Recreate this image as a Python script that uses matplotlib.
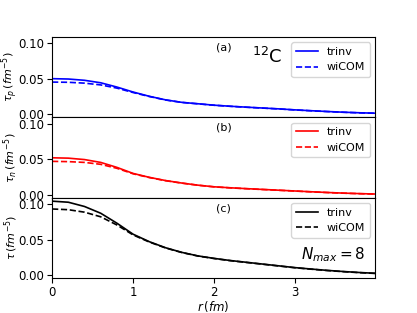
import numpy as np
import matplotlib.pyplot as plt

# radial grid (fm)
r = [0.0, 0.2, 0.4, 0.6, 0.8, 1.0, 1.2, 1.4, 1.6, 1.8, 2.0,
     2.2, 2.4, 2.6, 2.8, 3.0, 3.2, 3.4, 3.6, 3.8, 4.0]

# proton kinetic density
tau_p_trinv = [0.0503, 0.0498, 0.0480, 0.0445, 0.0385, 0.0315, 0.0255, 0.0205, 0.0170, 0.0150, 0.0130,
               0.0115, 0.0102, 0.0090, 0.0078, 0.0064, 0.0052, 0.0041, 0.0031, 0.0023, 0.0017]
tau_p_wicom = [0.0455, 0.0452, 0.0440, 0.0415, 0.0370, 0.0308, 0.0252, 0.0203, 0.0169, 0.0149, 0.0129,
               0.0114, 0.0101, 0.0089, 0.0077, 0.0063, 0.0051, 0.0040, 0.0030, 0.0022, 0.0016]

# neutron kinetic density
tau_n_trinv = [0.0520, 0.0515, 0.0495, 0.0455, 0.0385, 0.0300, 0.0245, 0.0200, 0.0165, 0.0135, 0.0112,
               0.0098, 0.0086, 0.0075, 0.0064, 0.0053, 0.0042, 0.0032, 0.0023, 0.0016, 0.0010]
tau_n_wicom = [0.0470, 0.0466, 0.0455, 0.0428, 0.0372, 0.0295, 0.0242, 0.0198, 0.0164, 0.0134, 0.0111,
               0.0097, 0.0085, 0.0074, 0.0063, 0.0052, 0.0041, 0.0031, 0.0022, 0.0015, 0.0009]

# total kinetic density
tau_trinv = [0.1040, 0.1025, 0.0965, 0.0870, 0.0730, 0.0575, 0.0470, 0.0385, 0.0320, 0.0270, 0.0235,
             0.0205, 0.0180, 0.0155, 0.0130, 0.0105, 0.0085, 0.0066, 0.0050, 0.0036, 0.0025]
tau_wicom = [0.0930, 0.0920, 0.0885, 0.0820, 0.0705, 0.0565, 0.0465, 0.0382, 0.0318, 0.0268, 0.0233,
             0.0203, 0.0178, 0.0153, 0.0128, 0.0103, 0.0083, 0.0064, 0.0048, 0.0034, 0.0023]

fig, axes = plt.subplots(3, 1, sharex=True, sharey=True, figsize=(4.17, 3.13), dpi=100)
fig.subplots_adjust(left=0.125, right=0.9, top=0.882, bottom=0.112, hspace=0)

panels = [
    (tau_p_trinv, tau_p_wicom, 'blue', r'$\tau_p\,(fm^{-5})$', '(a)'),
    (tau_n_trinv, tau_n_wicom, 'red', r'$\tau_n\,(fm^{-5})$', '(b)'),
    (tau_trinv, tau_wicom, 'black', r'$\tau\,(fm^{-5})$', '(c)'),
]

for ax, (tr, wc, col, lab, tag) in zip(axes, panels):
    ax.plot(r, tr, color=col, lw=1.2, label='trinv')
    ax.plot(r, wc, color=col, lw=1.2, ls='--', label='wiCOM')
    ax.set_ylabel(lab, fontsize=8)
    ax.yaxis.set_label_coords(-0.1, 0.5)
    ax.text(0.53, 0.87, tag, transform=ax.transAxes, fontsize=8, ha='center', va='center')
    ax.legend(loc='upper right', fontsize=8)
    ax.tick_params(labelsize=8.5, pad=2.5)

axes[0].text(0.665, 0.75, r'$^{12}$C', transform=axes[0].transAxes, fontsize=13,
             ha='center', va='center')
axes[2].text(0.87, 0.29, r'$N_{max}=8$', transform=axes[2].transAxes, fontsize=11,
             ha='center', va='center')

axes[0].set_ylim(-0.004, 0.109)
axes[0].set_yticks([0.0, 0.05, 0.10])
axes[2].set_xlim(0, 3.99)
axes[2].set_xticks([0, 1, 2, 3])
axes[2].set_xlabel(r'$r\,(fm)$', fontsize=8.5, labelpad=0)

fig.savefig('out.png')
